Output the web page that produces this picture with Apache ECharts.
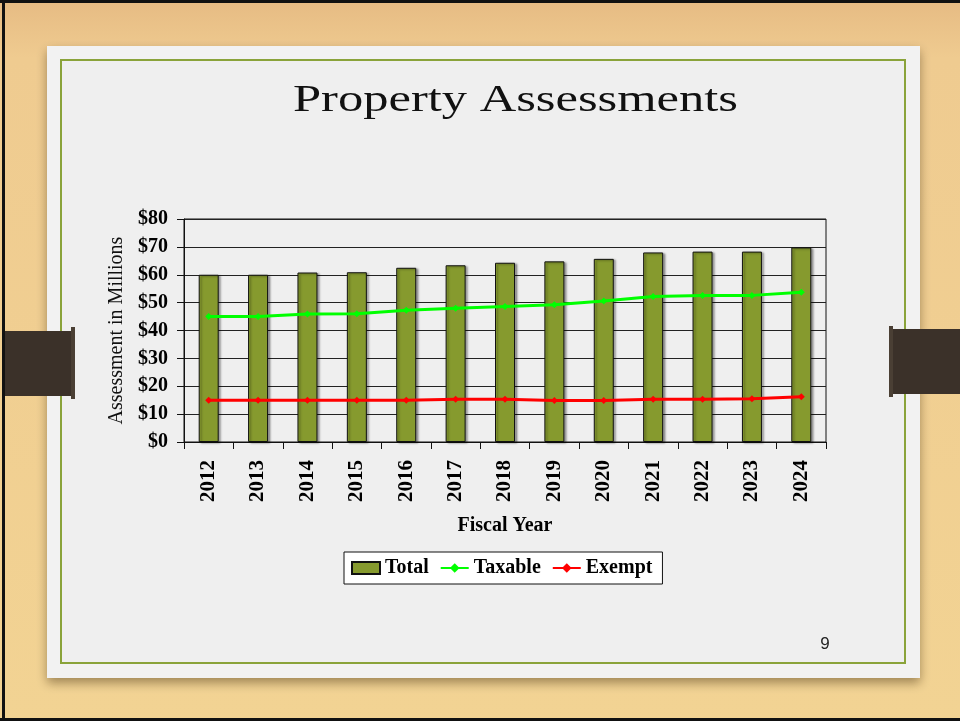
<!DOCTYPE html>
<html>
<head>
<meta charset="utf-8">
<title>Property Assessments</title>
<script src="https://cdn.jsdelivr.net/npm/echarts@6/dist/echarts.min.js"></script>
<style>
  html, body { margin: 0; padding: 0; background: #efcf93; }
  #chart { width: 960px; height: 721px; }
</style>
</head>
<body>
<div id="chart"></div>
<script>
// fiscal years on the x axis
const years = ['2012', '2013', '2014', '2015', '2016', '2017', '2018', '2019', '2020', '2021', '2022', '2023', '2024']
// assessments, millions of dollars
const total = [60.0, 60.0, 60.8, 60.9, 62.5, 63.4, 64.3, 64.8, 65.7, 68.0, 68.3, 68.3, 69.8]
const taxable = [45.0, 45.0, 45.9, 46.0, 47.3, 48.0, 48.6, 49.2, 50.6, 52.2, 52.6, 52.6, 53.7]
const exempt = [15.0, 15.0, 15.0, 15.0, 15.0, 15.3, 15.3, 14.9, 14.9, 15.3, 15.3, 15.5, 16.2]

const serif = '"Liberation Serif", "Times New Roman", serif'

const chart = echarts.init(document.getElementById('chart'))

// slide decoration: wood background, card, border, straps
const decor = [
  {
    type: 'rect', z: -20, silent: true,
    shape: { x: 0, y: 0, width: 960, height: 721 },
    style: {
      fill: new echarts.graphic.LinearGradient(0, 0, 0, 1, [
        { offset: 0, color: '#e6bb83' },
        { offset: 0.08, color: '#efcb90' },
        { offset: 1, color: '#f2d393' }
      ])
    }
  },
  { type: 'rect', z: -19, silent: true, shape: { x: 0, y: 0, width: 960, height: 3 }, style: { fill: '#111' } },
  { type: 'rect', z: -19, silent: true, shape: { x: 2, y: 0, width: 3, height: 721 }, style: { fill: '#111' } },
  { type: 'rect', z: -19, silent: true, shape: { x: 0, y: 718, width: 960, height: 3 }, style: { fill: '#111' } },
  // card
  {
    type: 'rect', z: -17, silent: true,
    shape: { x: 47, y: 46, width: 873, height: 632 },
    style: { fill: '#f2f2f2', shadowBlur: 10, shadowOffsetY: 5, shadowColor: 'rgba(60,40,10,0.45)' }
  },
  {
    type: 'rect', z: -16, silent: true,
    shape: { x: 61, y: 60, width: 844, height: 603 },
    style: { fill: '#efefef', stroke: '#8aa33a', lineWidth: 2 }
  },
  // straps over the card edges
  { type: 'rect', z: -15, silent: true, shape: { x: 5, y: 331, width: 68, height: 65 }, style: { fill: '#3b3129' } },
  { type: 'rect', z: -15, silent: true, shape: { x: 71, y: 327, width: 4, height: 72 }, style: { fill: '#4a3f34' } },
  { type: 'rect', z: -15, silent: true, shape: { x: 891, y: 329, width: 69, height: 65 }, style: { fill: '#3b3129' } },
  { type: 'rect', z: -15, silent: true, shape: { x: 889, y: 326, width: 4, height: 71 }, style: { fill: '#4a3f34' } },
  // title
  {
    type: 'text', z: 5, silent: true,
    x: 293, y: 120, scaleX: 1.33,
    style: { text: 'Property Assessments', fill: '#111', font: '38px ' + serif, align: 'left', verticalAlign: 'bottom' }
  },
  // page number
  {
    type: 'text', z: 5, silent: true,
    x: 825, y: 644,
    style: { text: '9', fill: '#222', font: '17px "Liberation Sans", Arial, sans-serif', align: 'center', verticalAlign: 'middle' }
  }
]

const option = {
  animation: false,
  graphic: decor,
  grid: {
    left: 184,
    right: 134,
    top: 219,
    bottom: 279,
    show: true,
    borderColor: '#111',
    borderWidth: 1,
    backgroundColor: 'transparent'
  },
  legend: {
    left: 344,
    top: 552,
    data: [{ name: 'Total', icon: 'rect' }, 'Taxable', 'Exempt'],
    backgroundColor: '#fff',
    borderColor: '#111',
    borderWidth: 1,
    padding: [6, 10, 6, 7],
    itemGap: 11,
    itemWidth: 28,
    itemHeight: 12,
    textStyle: { fontFamily: serif, fontWeight: 'bold', fontSize: 20, color: '#000' }
  },
  xAxis: {
    type: 'category',
    data: years,
    boundaryGap: true,
    name: 'Fiscal Year',
    nameLocation: 'middle',
    nameGap: 74,
    nameTextStyle: { fontFamily: serif, fontWeight: 'bold', fontSize: 20, color: '#000' },
    axisLine: { lineStyle: { color: '#111', width: 1 } },
    axisTick: { show: true, length: 7, lineStyle: { color: '#111' } },
    axisLabel: {
      rotate: 90,
      margin: 18,
      fontFamily: serif,
      fontWeight: 'bold',
      fontSize: 21,
      color: '#000'
    }
  },
  yAxis: {
    type: 'value',
    min: 0,
    max: 80,
    interval: 10,
    name: 'Assessment in Millions',
    nameLocation: 'middle',
    nameGap: 57,
    nameTextStyle: { fontFamily: serif, fontSize: 20, color: '#111' },
    axisLine: { show: true, lineStyle: { color: '#111', width: 1 } },
    axisTick: { show: true, length: 7, lineStyle: { color: '#111' } },
    splitLine: { show: true, lineStyle: { color: '#222', width: 1 } },
    axisLabel: {
      margin: 16,
      formatter: '${value}',
      fontFamily: serif,
      fontWeight: 'bold',
      fontSize: 20,
      color: '#000'
    }
  },
  series: [
    {
      name: 'Total',
      type: 'bar',
      data: total,
      barWidth: 20,
      itemStyle: {
        color: '#869a2e',
        borderColor: '#111',
        borderWidth: 1,
        shadowColor: 'rgba(0,0,0,0.35)',
        shadowOffsetX: 2,
        shadowOffsetY: 1,
        shadowBlur: 2
      }
    },
    {
      name: 'Taxable',
      type: 'line',
      data: taxable,
      symbol: 'diamond',
      symbolSize: 7,
      lineStyle: { color: '#00ff00', width: 3 },
      itemStyle: { color: '#00ff00' },
      z: 4
    },
    {
      name: 'Exempt',
      type: 'line',
      data: exempt,
      symbol: 'diamond',
      symbolSize: 7,
      lineStyle: { color: '#ff0000', width: 3 },
      itemStyle: { color: '#ff0000' },
      z: 4
    }
  ]
}

chart.setOption(option)
</script>
</body>
</html>
